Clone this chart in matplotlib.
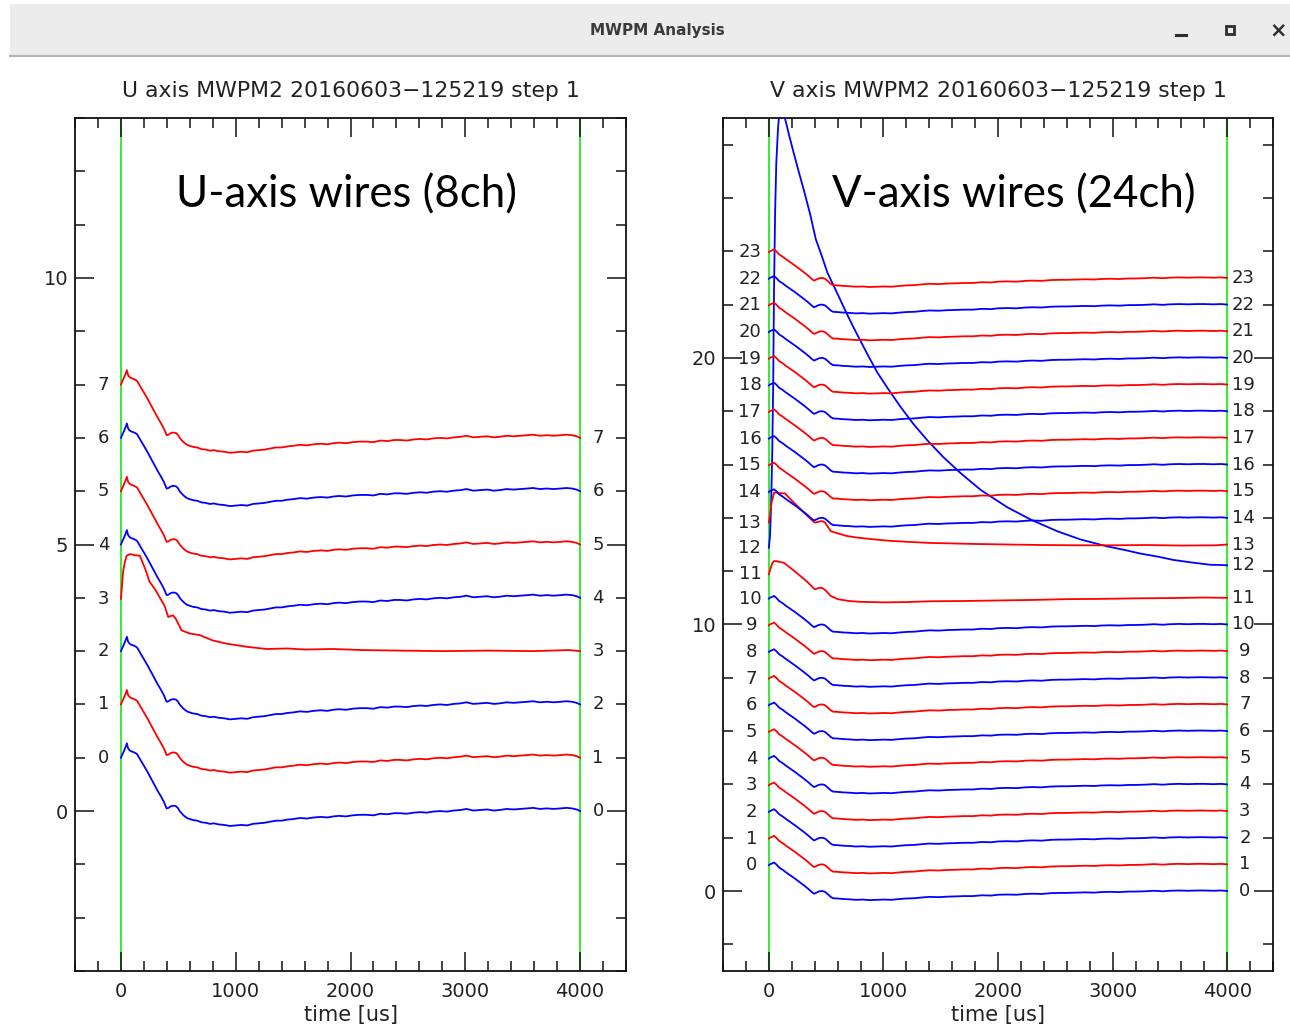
import matplotlib
matplotlib.use('Agg')
import matplotlib.pyplot as plt
from matplotlib.ticker import MultipleLocator, FixedLocator
from matplotlib.patches import Rectangle
from matplotlib.lines import Line2D

# ---------------- data ----------------
U_CHANNELS = list(range(8))
V_CHANNELS = list(range(24))

# Common pulse shape of the U wires (relative to the final baseline of each wire)
U_T = [0, 10, 25, 40, 52, 62, 75, 90, 105, 125, 140, 170, 200, 230, 260, 290, 320, 350, 375, 398,
       415, 435, 460, 480, 495, 515, 545, 575, 600, 630, 665, 700, 740, 775, 810, 850, 900, 950,
       1000, 1050, 1100, 1150, 1200, 1250, 1300, 1350, 1400, 1450, 1500, 1560, 1620, 1680, 1740,
       1800, 1850, 1900, 1960, 2020, 2080, 2140, 2200, 2260, 2320, 2380, 2430, 2490, 2550, 2610,
       2660, 2720, 2780, 2840, 2900, 2960, 3010, 3070, 3130, 3190, 3250, 3300, 3360, 3420, 3480,
       3540, 3590, 3650, 3710, 3770, 3830, 3880, 3930, 3970, 4000]
U_REL = [1.00, 1.05, 1.12, 1.20, 1.27, 1.18, 1.14, 1.12, 1.11, 1.09, 1.07, 0.96, 0.85, 0.74, 0.62,
         0.50, 0.38, 0.27, 0.17, 0.05, 0.06, 0.09, 0.10, 0.09, 0.06, -0.01, -0.08, -0.13, -0.15,
         -0.17, -0.18, -0.21, -0.22, -0.24, -0.23, -0.25, -0.26, -0.28, -0.27, -0.26, -0.27, -0.24,
         -0.23, -0.22, -0.20, -0.18, -0.18, -0.16, -0.15, -0.13, -0.14, -0.12, -0.11, -0.12, -0.10,
         -0.09, -0.10, -0.08, -0.07, -0.07, -0.08, -0.05, -0.06, -0.04, -0.04, -0.05, -0.03, -0.02,
         -0.03, -0.01, 0.00, -0.01, 0.01, 0.02, 0.04, 0.01, 0.02, 0.03, 0.01, 0.02, 0.04, 0.03,
         0.04, 0.05, 0.06, 0.04, 0.05, 0.04, 0.05, 0.06, 0.05, 0.03, 0.00]

# U wire 3 has a different (larger, slower) pulse
U3_T = [0, 10, 20, 35, 50, 80, 120, 165, 210, 250, 300, 340, 380, 412, 435, 455, 480, 528, 600,
        688, 800, 920, 1100, 1270, 1450, 1600, 1850, 2100, 2430, 2800, 3200, 3600, 3900, 4000]
U3_REL = [0.98, 1.25, 1.51, 1.68, 1.79, 1.82, 1.80, 1.79, 1.55, 1.30, 1.15, 1.00, 0.85, 0.64, 0.66,
          0.67, 0.60, 0.39, 0.33, 0.30, 0.20, 0.14, 0.08, 0.04, 0.05, 0.03, 0.04, 0.02, 0.01, 0.00,
          0.01, 0.00, 0.02, 0.00]

# Common pulse shape of the V wires
V_T = [0, 10, 25, 45, 65, 90, 120, 150, 190, 230, 270, 310, 350, 375, 395, 415, 440, 468, 490,
       515, 540, 560, 600, 650, 700, 760, 820, 880, 940, 1000, 1070, 1140, 1200, 1270, 1340, 1400,
       1480, 1560, 1640, 1700, 1780, 1860, 1940, 2000, 2080, 2160, 2240, 2300, 2380, 2460, 2540,
       2600, 2680, 2760, 2840, 2900, 2980, 3060, 3140, 3200, 3280, 3360, 3440, 3500, 3580, 3660,
       3740, 3800, 3880, 3950, 4000]
V_REL = [0.97, 1.00, 1.03, 1.07, 1.00, 0.88, 0.80, 0.70, 0.58, 0.46, 0.33, 0.20, 0.06, -0.04,
         -0.10, -0.06, -0.01, 0.00, -0.03, -0.12, -0.22, -0.27, -0.28, -0.30, -0.31, -0.33, -0.32,
         -0.34, -0.33, -0.32, -0.33, -0.30, -0.28, -0.27, -0.24, -0.22, -0.23, -0.21, -0.20, -0.19,
         -0.19, -0.16, -0.17, -0.14, -0.13, -0.14, -0.11, -0.10, -0.11, -0.08, -0.07, -0.07, -0.06,
         -0.05, -0.06, -0.04, -0.03, -0.04, -0.02, -0.02, -0.01, 0.01, -0.01, 0.01, 0.02, 0.01,
         0.02, 0.02, 0.01, 0.02, 0.00]

# V wire 11: higher peak
V11_T = [0, 15, 30, 45, 70, 100, 130, 180, 230, 280, 330, 370, 400, 430, 460, 490, 540, 600, 700,
         800, 1000, 1200, 1400, 1700, 2000, 2300, 2600, 2900, 3200, 3500, 3800, 4000]
V11_REL = [0.88, 1.10, 1.30, 1.38, 1.37, 1.34, 1.32, 1.15, 0.98, 0.80, 0.62, 0.45, 0.32, 0.36, 0.38,
           0.30, 0.07, -0.05, -0.12, -0.15, -0.17, -0.16, -0.13, -0.12, -0.10, -0.08, -0.05, -0.04,
           -0.02, -0.01, 0.01, 0.00]

# V wire 12: huge pulse with slow decay (absolute values)
V12_T = [0, 10, 20, 30, 38, 45, 55, 65, 80, 95, 110, 125, 140, 180, 220, 260, 307, 360, 410, 460,
         511, 580, 656, 730, 802, 870, 947, 1050, 1150, 1260, 1383, 1520, 1673, 1848, 2080, 2283,
         2516, 2719, 2952, 3100, 3242, 3400, 3532, 3700, 3852, 3950, 4000]
V12_VAL = [12.88, 13.30, 14.50, 16.50, 19.00, 22.50, 25.50, 27.30, 28.60, 29.40, 29.70, 29.50,
           29.00, 28.30, 27.64, 27.00, 26.27, 25.40, 24.45, 23.85, 23.20, 22.58, 21.88, 21.22,
           20.62, 20.06, 19.45, 18.78, 18.16, 17.53, 16.91, 16.29, 15.68, 15.05, 14.40, 13.94,
           13.50, 13.19, 12.93, 12.80, 12.66, 12.54, 12.42, 12.32, 12.24, 12.23, 12.22]

# V wire 13: larger pulse (absolute values)
V13_T = [0, 10, 25, 45, 70, 100, 140, 200, 260, 330, 400, 430, 460, 490, 540, 600, 680, 770, 900,
         1050, 1210, 1400, 1600, 1800, 2080, 2400, 2700, 3000, 3300, 3600, 3900, 4000]
V13_VAL = [13.82, 14.10, 14.60, 14.94, 14.95, 14.92, 14.92, 14.65, 14.40, 14.10, 13.82, 13.85,
           13.88, 13.83, 13.50, 13.42, 13.32, 13.26, 13.20, 13.14, 13.10, 13.06, 13.04, 13.02,
           13.00, 12.98, 12.97, 12.97, 12.98, 12.96, 12.97, 13.00]

U_TITLE = "U axis MWPM2 20160603\u2212125219 step 1"
V_TITLE = "V axis MWPM2 20160603\u2212125219 step 1"
U_NOTE = "U-axis wires (8ch)"
V_NOTE = "V-axis wires (24ch)"
X_TICKS = [0, 1000, 2000, 3000, 4000]
U_YTICKS = [0, 5, 10]
V_YTICKS = [0, 10, 20]
MARKERS_T = [0, 4000]

# ---------------- build traces ----------------
def u_trace(i):
    if i == 3:
        return U3_T, [i + r for r in U3_REL]
    return U_T, [i + r for r in U_REL]

def v_trace(i):
    if i == 11:
        return V11_T, [i + r for r in V11_REL]
    if i == 12:
        return V12_T, V12_VAL
    if i == 13:
        return V13_T, V13_VAL
    return V_T, [i + r for r in V_REL]

BLUE = '#0000ff'
RED = '#ff0000'
GREEN = '#3ee83e'
TXT = '#222222'
IDL_FONT = ['DejaVu Sans']

fig = plt.figure(figsize=(12.9, 10.29), dpi=100)
W, H = 1290, 1029

# window title bar
fig.patches.append(Rectangle((10 / W, 1 - 56 / H), 1 - 10 / W, 52 / H, transform=fig.transFigure,
                             facecolor='#ececec', edgecolor='none', zorder=0))
fig.lines.append(Line2D([10 / W, 1], [1 - 56 / H, 1 - 56 / H], transform=fig.transFigure,
                        color='#b4b4b4', lw=1.5))
fig.text(657 / W, 1 - 30 / H, "MWPM Analysis", ha='center', va='center', fontsize=11,
         fontweight='bold', color='#3a3a3a', family='DejaVu Sans')
fig.lines.append(Line2D([1176 / W, 1186 / W], [1 - 35 / H, 1 - 35 / H], transform=fig.transFigure,
                        color='#2e2e2e', lw=2.2))
fig.patches.append(Rectangle((1226 / W, 1 - 34 / H), 8 / W, 8 / H, transform=fig.transFigure,
                             facecolor='none', edgecolor='#2e2e2e', lw=2.0))
fig.text(1278 / W, 1 - 30 / H, "\u00d7", ha='center', va='center', fontsize=15,
         fontweight='bold', color='#2e2e2e', family='DejaVu Sans')


def setup_axes(ax, ylim, yminor, yticks, title, note, note_x):
    ax.set_xlim(-400, 4400)
    ax.set_ylim(*ylim)
    for s in ax.spines.values():
        s.set_linewidth(1.3)
        s.set_color('#111111')
    ax.xaxis.set_major_locator(FixedLocator(X_TICKS))
    ax.xaxis.set_minor_locator(MultipleLocator(200))
    ax.yaxis.set_major_locator(FixedLocator(yticks))
    ax.yaxis.set_minor_locator(MultipleLocator(yminor))
    ax.tick_params(which='both', direction='in', top=True, right=True, color='#111111',
                   width=1.1, labelsize=14, labelcolor=TXT)
    ax.tick_params(which='major', length=14)
    ax.tick_params(which='minor', length=7.5)
    ax.tick_params(axis='x', pad=8)
    ax.tick_params(axis='y', pad=5)
    for lab in ax.get_xticklabels() + ax.get_yticklabels():
        lab.set_family(IDL_FONT)
    ax.set_xlabel("time [us]", fontsize=15, color=TXT, labelpad=3, family=IDL_FONT)
    ax.set_title(title, fontsize=15.8, color=TXT, pad=15, family=IDL_FONT)
    for t in MARKERS_T:
        ax.axvline(t, color=GREEN, lw=1.5, zorder=1)
    ax.text(note_x, 0.91, note, transform=ax.transAxes, ha='center', va='center',
            fontsize=31.5, family='Lato', color='black', zorder=5)


axU = fig.add_axes([75 / W, 1 - 971 / H, 551 / W, 853 / H])
axV = fig.add_axes([723 / W, 1 - 971 / H, 550 / W, 853 / H])

setup_axes(axU, (-3, 13), 1, U_YTICKS, U_TITLE, U_NOTE, (346 - 75) / 551)
setup_axes(axV, (-3, 29), 2, V_YTICKS, V_TITLE, V_NOTE, (1014 - 723) / 550)

for i in U_CHANNELS:
    t, v = u_trace(i)
    axU.plot(t, v, color=BLUE if i % 2 == 0 else RED, lw=1.3, zorder=3)
    axU.text(-150, v[0], str(i), ha='center', va='center', fontsize=13, color=TXT, family=IDL_FONT)
    axU.text(4157, v[-1], str(i), ha='center', va='center', fontsize=13, color=TXT,
             family=IDL_FONT)

for i in V_CHANNELS:
    t, v = v_trace(i)
    axV.plot(t, v, color=BLUE if i % 2 == 0 else RED, lw=1.3, zorder=3)
    axV.text(-165 if i >= 10 else -150, v[0], str(i), ha='center', va='center', fontsize=13,
             color=TXT, family=IDL_FONT)
    axV.text(4140 if i >= 10 else 4155, v[-1], str(i), ha='center', va='center', fontsize=13,
             color=TXT, family=IDL_FONT)

fig.savefig('out.png', dpi=100, facecolor='white')
